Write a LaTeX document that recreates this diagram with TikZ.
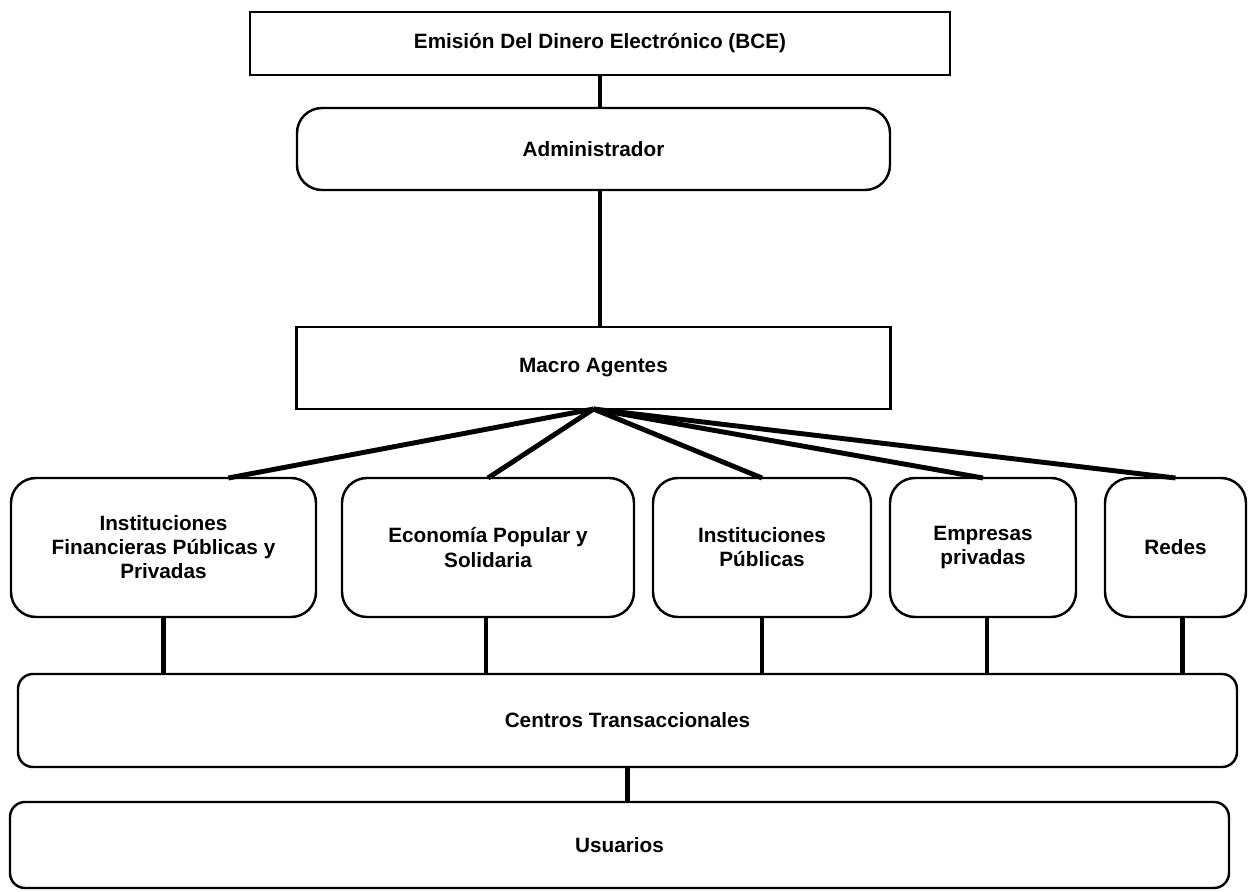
\documentclass[tikz,border=0pt]{standalone}
\usepackage{fontspec}
\setmainfont{Liberation Sans}
\usetikzlibrary{positioning, calc}
\tikzset{%
	box/.style={draw, rectangle, line width=1.4pt, inner sep=0mm, outer sep=0mm, align=center,%
		font=\bfseries\fontsize{11.8}{13.7}\selectfont},
	rbox/.style={box, rounded corners=0.5cm},
	wide/.style={box, rounded corners=0.3cm},
	link/.style={line width=2.8pt}
}

\begin{document}
\begin{tikzpicture}
		\useasboundingbox (0,0) rectangle (24.96,-17.84);
		\node[box, minimum width=14cm, minimum height=1.26cm] (bce) at (12,-0.87) {Emisión Del Dinero Electrónico (BCE)};
		\node[rbox, minimum width=11.86cm, minimum height=1.64cm, xshift=-0.13cm] (admin) [below=0.66cm of bce] {Administrador};
		\node[box, minimum width=11.88cm, minimum height=1.64cm] (macro) [below=2.74cm of admin] {Macro Agentes};
		\node[rbox, minimum width=6.1cm, minimum height=2.78cm] (fin) at (3.27,-10.95) {Instituciones\\Financieras Públicas y\\Privadas};
		\node[rbox, minimum width=5.84cm, minimum height=2.78cm] (eco) [right=0.52cm of fin] {Economía Popular y\\Solidaria};
		\node[rbox, minimum width=4.36cm, minimum height=2.78cm] (pub) [right=0.38cm of eco] {Instituciones\\Públicas};
		\node[rbox, minimum width=3.72cm, minimum height=2.78cm] (emp) [right=0.38cm of pub] {Empresas\\privadas};
		\node[rbox, minimum width=2.82cm, minimum height=2.78cm] (redes) [right=0.58cm of emp] {Redes};
		\node[wide, minimum width=24.38cm, minimum height=1.86cm] (centros) at (12.55,-14.41) {Centros Transaccionales};
		\node[wide, minimum width=24.38cm, minimum height=1.72cm, xshift=-0.16cm] (usr) [below=0.7cm of centros] {Usuarios};
		\draw [link] (bce.south) to (bce.south |- admin.north);
		\draw [link] (bce.south |- admin.south) to (bce.south |- macro.north);
		\draw [link] (macro.south) to (fin.47.6);
		\draw [link] (macro.south) to (eco.north);
		\draw [link] (macro.south) to (pub.north);
		\draw [link] (macro.south) to (emp.north);
		\draw [link] (macro.south) to (redes.north);
		\draw [link] (fin.south) to (fin.south |- centros.north);
		\draw [link] ([xshift=-0.04cm]eco.south) to ([xshift=-0.04cm]eco.south |- centros.north);
		\draw [link] (pub.south) to (pub.south |- centros.north);
		\draw [link] ([xshift=0.08cm]emp.south) to ([xshift=0.08cm]emp.south |- centros.north);
		\draw [link] ([xshift=0.14cm]redes.south) to ([xshift=0.14cm]redes.south |- centros.north);
		\draw [link] (centros.south) to (centros.south |- usr.north);
	\end{tikzpicture}
\end{document}
